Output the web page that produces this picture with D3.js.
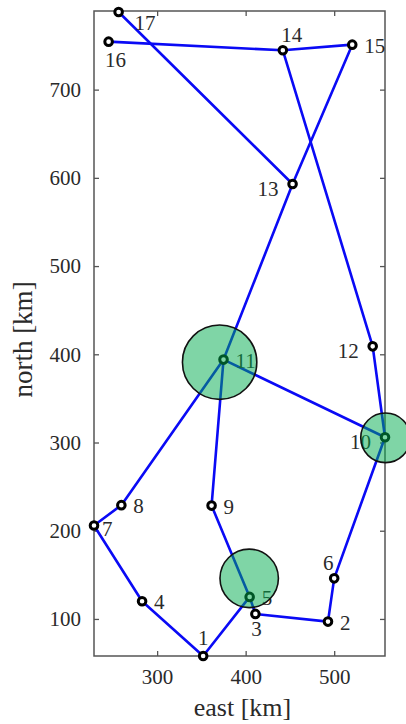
<!DOCTYPE html>
<html>
<head>
<meta charset="utf-8">
<script src="https://cdn.jsdelivr.net/npm/d3@7"></script>
<style>
  html, body { margin: 0; padding: 0; background: #fff; }
  svg { display: block; }
  text { font-family: "Liberation Serif", "Times New Roman", serif; fill: #2a2a2a; }
</style>
</head>
<body>
<svg id="chart" width="406" height="724"></svg>
<script>
// ---- data ----
const nodeIds    = [1, 2, 3, 4, 5, 6, 7, 8, 9, 10, 11, 12, 13, 14, 15, 16, 17];
const nodeEast   = [352, 493, 411, 283, 404.5, 500, 228.7, 259.6, 361.5, 557.4, 375, 543.5, 453, 442, 520.4, 245.2, 256.5];
const nodeNorth  = [58, 97, 105.7, 120, 125, 146, 206, 229, 228.5, 306, 394, 409, 593, 744.6, 751, 754.4, 788];
const labelSide  = ["N", "E", "S", "E", "E", "NW", "E7", "E", "E", "W", "E", "W", "W", "NE", "E", "S16", "SE"];
const edgeFrom   = [1, 4, 7, 8, 11, 9, 5, 5, 3, 2, 6, 10, 10, 12, 14, 14, 15, 13, 13];
const edgeTo     = [4, 7, 8, 11, 9, 5, 1, 3, 2, 6, 10, 11, 12, 14, 16, 15, 13, 11, 17];
const siteEast   = [404, 370.6, 558];
const siteNorth  = [146, 391, 305.3];
const siteRadius = [33, 42, 28];   // km
const xTicks = [300, 400, 500];
const yTicks = [100, 200, 300, 400, 500, 600, 700];
const xTitle = "east [km]";
const yTitle = "north [km]";

// ---- layout ----
const L = 94, R = 385, T = 12, B = 656;
const svg = d3.select("#chart");

const x = d3.scaleLinear().domain(d3.extent(nodeEast)).range([L, R]);
const y = d3.scaleLinear().domain(d3.extent(nodeNorth)).range([B, T]);

const nodes = nodeIds.map((id, i) => ({ id, e: nodeEast[i], n: nodeNorth[i], side: labelSide[i] }));
const byId = new Map(nodes.map(d => [d.id, d]));
const edges = edgeFrom.map((f, i) => ({ a: byId.get(f), b: byId.get(edgeTo[i]) }));
const sites = siteEast.map((e, i) => ({ e, n: siteNorth[i], r: siteRadius[i] }));

const axisColor = "#555";
const tickLen = 5;

// frame
svg.append("rect")
  .attr("x", L).attr("y", 11).attr("width", R - L).attr("height", B - 11)
  .attr("fill", "none").attr("stroke", axisColor).attr("stroke-width", 1.5);

// axes (inward ticks, mirrored)
const gx = svg.append("g").attr("transform", `translate(0,${B})`)
  .call(d3.axisBottom(x).tickValues(xTicks).tickSizeInner(-tickLen).tickSizeOuter(0).tickPadding(13));
const gxTop = svg.append("g").attr("transform", `translate(0,11)`)
  .call(d3.axisTop(x).tickValues(xTicks).tickSizeInner(-tickLen).tickSizeOuter(0).tickFormat(""));
const gy = svg.append("g").attr("transform", `translate(${L},0)`)
  .call(d3.axisLeft(y).tickValues(yTicks).tickSizeInner(-tickLen).tickSizeOuter(0).tickPadding(13));
const gyR = svg.append("g").attr("transform", `translate(${R},0)`)
  .call(d3.axisRight(y).tickValues(yTicks).tickSizeInner(-tickLen).tickSizeOuter(0).tickFormat(""));
[gx, gxTop, gy, gyR].forEach(g => {
  g.select(".domain").remove();
  g.selectAll(".tick line").attr("stroke", axisColor).attr("stroke-width", 1.3);
  g.selectAll(".tick text")
    .attr("font-family", "'Liberation Serif', 'Times New Roman', serif")
    .attr("font-size", 21).attr("fill", "#2a2a2a");
});
gx.selectAll(".tick text").attr("dy", "0.71em");

// axis titles
svg.append("text").attr("x", (L + R) / 2 + 3).attr("y", 716)
  .attr("text-anchor", "middle").attr("font-size", 26).text(xTitle);
svg.append("text").attr("transform", `translate(32,${(11 + B) / 2 + 6}) rotate(-90)`)
  .attr("text-anchor", "middle").attr("font-size", 27).text(yTitle);

// edges
svg.append("g").selectAll("line").data(edges).join("line")
  .attr("x1", d => x(d.a.e)).attr("y1", d => y(d.a.n))
  .attr("x2", d => x(d.b.e)).attr("y2", d => y(d.b.n))
  .attr("stroke", "#0a0af5").attr("stroke-width", 2.6).attr("stroke-linecap", "round");

// node markers
svg.append("g").selectAll("circle").data(nodes).join("circle")
  .attr("cx", d => x(d.e)).attr("cy", d => y(d.n)).attr("r", 3.8)
  .attr("fill", "#fff").attr("stroke", "#000").attr("stroke-width", 3);

// labels
const place = {
  N:   { dx: 0,   dy: -11, a: "middle" },
  NE:  { dx: 9,   dy: -8,  a: "middle" },
  NW:  { dx: -6,  dy: -8,  a: "middle" },
  E:   { dx: 12,  dy: 8,   a: "start" },
  E7:  { dx: 8,   dy: 11,  a: "start" },
  SE:  { dx: 16,  dy: 18,  a: "start" },
  S:   { dx: 1,   dy: 22,  a: "middle" },
  S16: { dx: 7,   dy: 25,  a: "middle" },
  W:   { dx: -14, dy: 12,  a: "end" }
};
svg.append("g").selectAll("text").data(nodes).join("text")
  .attr("x", d => x(d.e) + place[d.side].dx)
  .attr("y", d => y(d.n) + place[d.side].dy)
  .attr("text-anchor", d => place[d.side].a)
  .attr("font-size", 21)
  .text(d => d.id);

// sites (semi-transparent green discs on top)
const kmPx = (x(500) - x(400)) / 100;
svg.append("g").selectAll("circle").data(sites).join("circle")
  .attr("cx", d => x(d.e)).attr("cy", d => y(d.n)).attr("r", d => d.r * kmPx)
  .attr("fill", "rgb(0,172,78)").attr("fill-opacity", 0.5)
  .attr("stroke", "#111").attr("stroke-width", 1.6);
</script>
</body>
</html>
